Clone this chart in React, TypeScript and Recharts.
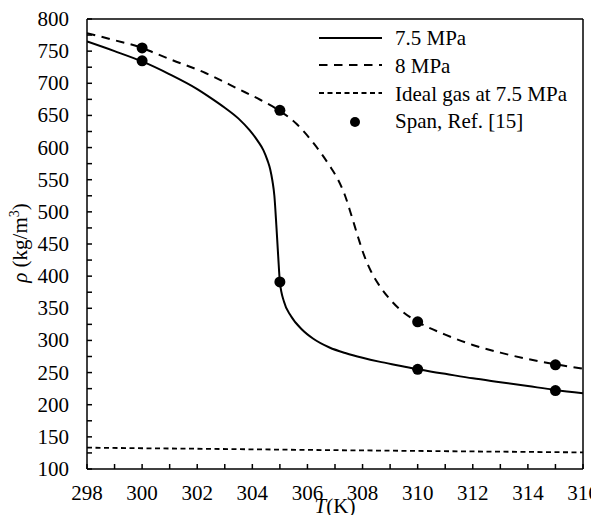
import { ComposedChart, Line, Scatter, XAxis, YAxis, ReferenceLine } from "recharts"

// 7.5 MPa density curve (T in K, rho in kg/m3)
const curve75 = [
  { t: 298, rho: 765 }, { t: 299, rho: 750 }, { t: 300, rho: 734 }, { t: 301, rho: 714 },
  { t: 302, rho: 691 }, { t: 302.5, rho: 677 }, { t: 303, rho: 662 }, { t: 303.5, rho: 645 },
  { t: 303.9, rho: 627 }, { t: 304.2, rho: 610 }, { t: 304.4, rho: 596 }, { t: 304.55, rho: 580 },
  { t: 304.65, rho: 566 }, { t: 304.73, rho: 548 }, { t: 304.8, rho: 525 }, { t: 304.87, rho: 480 },
  { t: 304.94, rho: 430 }, { t: 305, rho: 391 }, { t: 305.15, rho: 360 }, { t: 305.4, rho: 338 },
  { t: 305.8, rho: 317 }, { t: 306.2, rho: 303 }, { t: 306.8, rho: 289 }, { t: 307.4, rho: 280 },
  { t: 308, rho: 273 }, { t: 308.6, rho: 267 }, { t: 309.3, rho: 261 }, { t: 310, rho: 255 },
  { t: 311, rho: 248 }, { t: 312, rho: 241 }, { t: 313, rho: 235 }, { t: 314, rho: 229 },
  { t: 315, rho: 223 }, { t: 316, rho: 218 },
]

// 8 MPa density curve
const curve80 = [
  { t: 298, rho: 778 }, { t: 299, rho: 767 }, { t: 300, rho: 755 }, { t: 300.4, rho: 748 },
  { t: 301.1, rho: 736 }, { t: 302.3, rho: 716 }, { t: 303.5, rho: 691 }, { t: 304.3, rho: 674 },
  { t: 305, rho: 657 }, { t: 305.6, rho: 637 }, { t: 306.2, rho: 608 }, { t: 306.8, rho: 572 },
  { t: 307.1, rho: 551 }, { t: 307.35, rho: 527 }, { t: 307.6, rho: 494 }, { t: 307.85, rho: 459 },
  { t: 308.05, rho: 433 }, { t: 308.3, rho: 408 }, { t: 308.6, rho: 386 }, { t: 309.1, rho: 359 },
  { t: 309.5, rho: 343 }, { t: 310, rho: 329 }, { t: 311, rho: 309 }, { t: 312, rho: 293 },
  { t: 313, rho: 281 }, { t: 314, rho: 271 }, { t: 315, rho: 263 }, { t: 316, rho: 256 },
]

// ideal gas at 7.5 MPa
const idealGas = [
  { t: 298, rho: 133.2 }, { t: 300, rho: 132.3 }, { t: 302, rho: 131.5 }, { t: 304, rho: 130.6 },
  { t: 306, rho: 129.7 }, { t: 308, rho: 128.9 }, { t: 310, rho: 128.1 }, { t: 312, rho: 127.3 },
  { t: 314, rho: 126.6 }, { t: 316, rho: 125.8 },
]

// Span, Ref. [15]
const spanPoints = [
  { t: 300, rho: 735 }, { t: 305, rho: 391 }, { t: 310, rho: 255 }, { t: 315, rho: 222 },
  { t: 300, rho: 755 }, { t: 305, rho: 658 }, { t: 310, rho: 329 }, { t: 315, rho: 262 },
]

const xTicks = [298, 299, 300, 301, 302, 303, 304, 305, 306, 307, 308, 309, 310, 311, 312, 313, 314, 315, 316]
const yTicks = [100, 125, 150, 175, 200, 225, 250, 275, 300, 325, 350, 375, 400, 425, 450, 475, 500, 525, 550, 575, 600, 625, 650, 675, 700, 725, 750, 775, 800]

const FONT = "Liberation Serif"
const Y_MARGIN = 18

function YTick({ x, y, payload }: any) {
  const v = payload.value
  return (
    <g>
      <line x1={x + Y_MARGIN} x2={x + Y_MARGIN + 5} y1={y} y2={y} stroke="#000" strokeWidth={1.5} />
      {v % 50 === 0 && (
        <text x={x} y={y} textAnchor="end" dominantBaseline="central" fontFamily={FONT} fontSize={21} fill="#000">{v}</text>
      )}
    </g>
  )
}

function XTick({ x, y, payload }: any) {
  const v = payload.value
  return (
    <g>
      <line x1={x} x2={x} y1={y} y2={y - 5} stroke="#000" strokeWidth={1.5} />
      {v % 2 === 0 && (
        <text x={x} y={y + 31} textAnchor="middle" fontFamily={FONT} fontSize={21} fill="#000">{v}</text>
      )}
    </g>
  )
}

function Overlay() {
  const tx = 395
  return (
    <svg width={599} height={523} style={{ position: "absolute", left: 0, top: 0, pointerEvents: "none" }}>
      <g fontFamily={FONT} fontSize={21} fill="#000">
        <line x1={319} x2={382} y1={38} y2={38} stroke="#000" strokeWidth={2} />
        <text x={tx} y={45}>7.5 MPa</text>
        <line x1={319} x2={382} y1={65} y2={65} stroke="#000" strokeWidth={2} strokeDasharray="8.5 6.5" />
        <text x={tx} y={73}>8 MPa</text>
        <line x1={319} x2={382} y1={93} y2={93} stroke="#000" strokeWidth={1.8} strokeDasharray="5 3.5" />
        <text x={tx} y={100.5}>Ideal gas at 7.5 MPa</text>
        <circle cx={355} cy={122} r={5} fill="#000" />
        <text x={tx} y={128}>Span, Ref. [15]</text>

        <text x={335} y={513} textAnchor="middle">
          <tspan fontStyle="italic">T</tspan>(K)
        </text>
        <text transform="translate(27,243) rotate(-90)" textAnchor="middle">
          <tspan fontStyle="italic">ρ</tspan> (kg/m<tspan fontSize={14} dy={-8}>3</tspan><tspan dy={8}>)</tspan>
        </text>
      </g>
    </svg>
  )
}

export default function App() {
  return (
    <div style={{ margin: -8, position: "relative", width: 599, height: 523, background: "#fff", overflow: "hidden" }}>
      <ComposedChart width={599} height={523} margin={{ top: 19, right: 16, bottom: 0, left: 0 }}>
        <XAxis
          type="number"
          dataKey="t"
          domain={[298, 316]}
          ticks={xTicks}
          interval={0}
          allowDataOverflow
          height={54}
          tickSize={0}
          tickMargin={0}
          tick={<XTick />}
          axisLine={{ stroke: "#000", strokeWidth: 1.5 }}
        />
        <YAxis
          type="number"
          dataKey="rho"
          domain={[100, 800]}
          ticks={yTicks}
          interval={0}
          allowDataOverflow
          width={87}
          tickSize={0}
          tickMargin={Y_MARGIN}
          tick={<YTick />}
          axisLine={{ stroke: "#000", strokeWidth: 1.5 }}
        />
        <ReferenceLine y={800} stroke="#000" strokeWidth={1.5} />
        <ReferenceLine x={316} stroke="#000" strokeWidth={1.5} />
        <Line data={idealGas} dataKey="rho" type="linear" stroke="#000" strokeWidth={1.8} strokeDasharray="5 3.5" dot={false} isAnimationActive={false} />
        <Line data={curve80} dataKey="rho" type="monotone" stroke="#000" strokeWidth={2} strokeDasharray="8.5 6.5" dot={false} isAnimationActive={false} />
        <Line data={curve75} dataKey="rho" type="monotone" stroke="#000" strokeWidth={2} dot={false} isAnimationActive={false} />
        <Scatter data={spanPoints} dataKey="rho" fill="#000" shape={(p: any) => <circle cx={p.cx} cy={p.cy} r={5.5} fill="#000" />} isAnimationActive={false} />
      </ComposedChart>
      <Overlay />
    </div>
  )
}
